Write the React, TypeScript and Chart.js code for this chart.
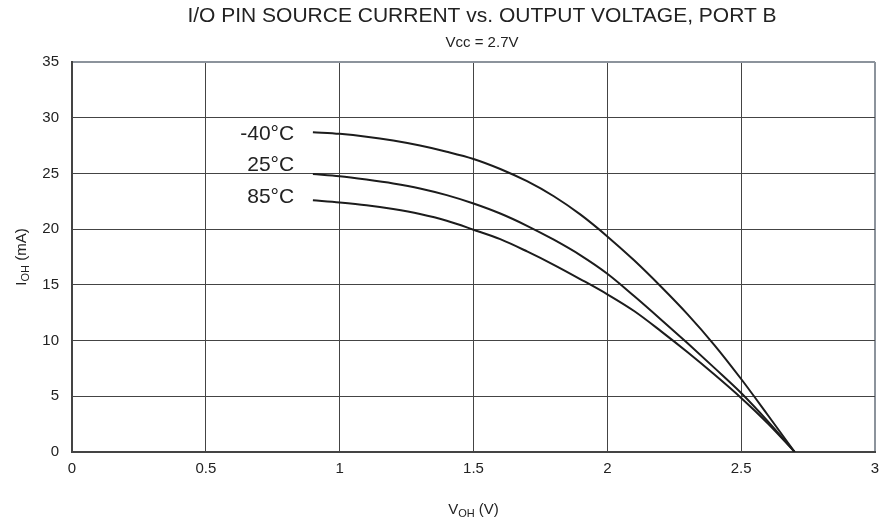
import React, { useEffect, useRef } from "react";
import { Chart, registerables } from "chart.js";

Chart.register(...registerables);

// ---- data ----
const xTicks = [0, 0.5, 1, 1.5, 2, 2.5, 3];
const yTicks = [0, 5, 10, 15, 20, 25, 30, 35];

const seriesNames = ["-40°C", "25°C", "85°C"];

// V_OH samples (V)
const voh = [0.9, 1.0, 1.1, 1.2, 1.3, 1.4, 1.5, 1.6, 1.7, 1.8, 1.9, 2.0, 2.1, 2.2, 2.3, 2.4, 2.5, 2.6, 2.7];

// I_OH (mA) per temperature
const iohM40 = [28.7, 28.55, 28.3, 27.95, 27.5, 26.95, 26.3, 25.4, 24.3, 22.95, 21.3, 19.35, 17.2, 14.85, 12.35, 9.6, 6.55, 3.3, 0];
const ioh25 = [24.95, 24.75, 24.45, 24.1, 23.65, 23.05, 22.3, 21.4, 20.3, 19.05, 17.65, 16.0, 14.0, 11.9, 9.75, 7.55, 5.3, 2.75, 0];
const ioh85 = [22.6, 22.4, 22.15, 21.8, 21.35, 20.75, 19.95, 19.1, 18.0, 16.8, 15.5, 14.15, 12.65, 10.85, 8.95, 6.95, 4.85, 2.55, 0];

const titleText = "I/O PIN SOURCE CURRENT vs. OUTPUT VOLTAGE, PORT B";
const subtitleText = "Vcc = 2.7V";

const FONT = '"Liberation Sans", Arial, Helvetica, sans-serif';
const TEXT = "#222";

const zip = (xs: number[], ys: number[]) => xs.map((x, i) => ({ x, y: ys[i] }));

function drawSub(ctx: CanvasRenderingContext2D, main: string, sub: string, rest: string, size: number, cx: number, cy: number) {
  ctx.font = `${size}px ${FONT}`;
  const w1 = ctx.measureText(main).width;
  const w3 = ctx.measureText(rest).width;
  ctx.font = `${Math.round(size * 0.7)}px ${FONT}`;
  const w2 = ctx.measureText(sub).width;
  const total = w1 + w2 + w3;
  let x = cx - total / 2;
  ctx.textAlign = "left";
  ctx.textBaseline = "middle";
  ctx.font = `${size}px ${FONT}`;
  ctx.fillText(main, x, cy);
  x += w1;
  ctx.font = `${Math.round(size * 0.7)}px ${FONT}`;
  ctx.fillText(sub, x, cy + size * 0.25);
  x += w2;
  ctx.font = `${size}px ${FONT}`;
  ctx.fillText(rest, x, cy);
}

const textPlugin = {
  id: "textPlugin",
  afterDraw(chart: any, _args: any, opts: any) {
    const ctx = chart.ctx as CanvasRenderingContext2D;
    const area = chart.chartArea;
    const xs = chart.scales.x;
    const ys = chart.scales.y;
    ctx.save();
    ctx.fillStyle = TEXT;
    ctx.textAlign = "center";
    ctx.textBaseline = "middle";
    ctx.font = `21px ${FONT}`;
    ctx.fillText(titleText, opts.titleX, opts.titleY);
    ctx.font = `15px ${FONT}`;
    ctx.fillText(subtitleText, opts.titleX, opts.subtitleY);
    drawSub(ctx, "V", "OH", " (V)", 15, (area.left + area.right) / 2, opts.xTitleY);
    ctx.save();
    ctx.translate(opts.yTitleX, (area.top + area.bottom) / 2);
    ctx.rotate(-Math.PI / 2);
    drawSub(ctx, "I", "OH", " (mA)", 15, 0, 0);
    ctx.restore();
    ctx.font = `21px ${FONT}`;
    ctx.textAlign = "right";
    ctx.textBaseline = "middle";
    seriesNames.forEach((name, i) => {
      const p = opts.labels[i];
      ctx.fillText(name, xs.getPixelForValue(p[0]), ys.getPixelForValue(p[1]));
    });
    ctx.restore();
  },
};

export default function App() {
  const ref = useRef<HTMLCanvasElement | null>(null);
  useEffect(() => {
    document.body.style.margin = "0";
    const canvas = ref.current!;
    const lineDs = (label: string, data: { x: number; y: number }[]) => ({
      label,
      data,
      borderColor: "#1c1c1c",
      borderWidth: 2,
      pointRadius: 0,
      fill: false,
      cubicInterpolationMode: "monotone" as const,
    });
    const chart = new Chart(canvas, {
      type: "line",
      data: {
        datasets: [
          lineDs(seriesNames[0], zip(voh, iohM40)),
          lineDs(seriesNames[1], zip(voh, ioh25)),
          lineDs(seriesNames[2], zip(voh, ioh85)),
        ],
      },
      options: {
        responsive: false,
        animation: false,
        events: [],
        layout: { padding: { top: 62, right: 16, left: 0, bottom: 0 } },
        plugins: {
          legend: { display: false },
          tooltip: { enabled: false },
          title: { display: false },
          textPlugin: {
            titleX: 482,
            titleY: 16,
            subtitleY: 43,
            xTitleY: 510,
            yTitleX: 22,
            labels: [
              [0.83, 28.5],
              [0.83, 25.7],
              [0.83, 22.9],
            ],
          },
        } as any,
        scales: {
          x: {
            type: "linear",
            min: 0,
            max: 3,
            afterBuildTicks: (s: any) => {
              s.ticks = xTicks.map((v) => ({ value: v }));
            },
            afterFit: (s: any) => {
              s.height = 75;
            },
            ticks: {
              color: TEXT,
              font: { family: FONT, size: 15 },
              padding: 8,
              callback: (v: any) => String(v),
            },
            grid: {
              drawTicks: false,
              color: (c: any) => (c.tick && c.tick.value === 3 ? "#8c939c" : "#444"),
              lineWidth: (c: any) => (c.tick && c.tick.value === 3 ? 2 : 1),
            },
            border: { color: "#444", width: 2 },
          },
          y: {
            type: "linear",
            min: 0,
            max: 35,
            afterBuildTicks: (s: any) => {
              s.ticks = yTicks.map((v) => ({ value: v }));
            },
            afterFit: (s: any) => {
              s.width = 72;
            },
            ticks: {
              color: TEXT,
              font: { family: FONT, size: 15 },
              padding: 13,
              callback: (v: any) => String(v),
            },
            grid: {
              drawTicks: false,
              color: (c: any) => (c.tick && c.tick.value === 35 ? "#8c939c" : "#444"),
              lineWidth: (c: any) => (c.tick && c.tick.value === 35 ? 2 : 1),
            },
            border: { color: "#444", width: 2 },
          },
        },
      },
      plugins: [textPlugin],
    });
    return () => chart.destroy();
  }, []);
  return (
    <div style={{ width: 891, height: 527, background: "#fff" }}>
      <canvas ref={ref} width={891} height={527} style={{ display: "block" }} />
    </div>
  );
}
